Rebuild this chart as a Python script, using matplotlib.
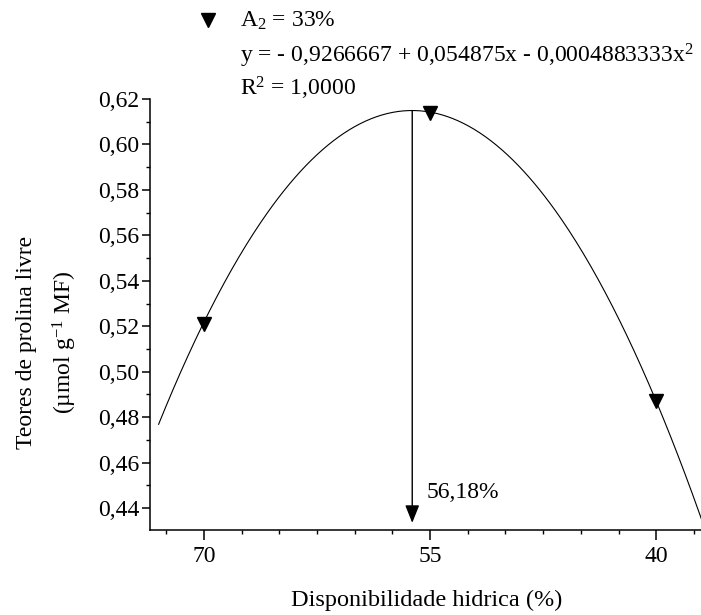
import matplotlib
matplotlib.use("Agg")
import matplotlib.pyplot as plt
import numpy as np
from matplotlib.lines import Line2D
from matplotlib.ticker import MultipleLocator, FuncFormatter

# medias observadas (A2 = 33%)
disponibilidade = [70, 55, 40]
prolina = [0.521, 0.614, 0.487]

# coeficientes da regressao quadratica y = b0 + b1*x + b2*x^2
b0, b1, b2 = -0.9266667, 0.054875, -0.0004883333
x_max = 56.18

plt.rcParams["font.family"] = ["Liberation Serif", "DejaVu Serif"]
plt.rcParams["mathtext.fontset"] = "stix"

fig = plt.figure(figsize=(7.01, 6.15), dpi=100)
ax = fig.add_axes([0.214, 0.138, 0.786, 0.701])

xc = np.linspace(73.0, 37.0, 300)
yc = b0 + b1 * xc + b2 * xc ** 2
ax.plot(xc, yc, color="black", lw=0.8)
ax.plot(disponibilidade, prolina, linestyle="none", marker="v",
        markersize=10, color="black")

# seta no ponto de maximo
y_pico = b0 + b1 * x_max + b2 * x_max ** 2
ax.annotate("", xy=(x_max, 0.4335), xytext=(x_max, y_pico),
            arrowprops=dict(arrowstyle="-|>,head_length=0.4,head_width=0.16",
                            mutation_scale=27, lw=1.0, color="black",
                            shrinkA=0, shrinkB=0))
ax.text(55.2, 0.4467, "56,18%", ha="left", va="center", fontsize=17)

ax.set_xlim(73.57, 37.03)
ax.set_ylim(0.4303, 0.62)
ax.set_xticks(disponibilidade)
ax.xaxis.set_minor_locator(MultipleLocator(2.5))
ax.yaxis.set_major_locator(MultipleLocator(0.02))
ax.yaxis.set_minor_locator(MultipleLocator(0.01))
ax.yaxis.set_major_formatter(FuncFormatter(lambda v, p: f"{v:.2f}".replace(".", ",")))
ax.xaxis.set_major_formatter(FuncFormatter(lambda v, p: f"{v:.0f}"))

for s in ["top", "right"]:
    ax.spines[s].set_visible(False)
for s in ["left", "bottom"]:
    ax.spines[s].set_linewidth(1.1)

ax.tick_params(axis="x", which="major", length=7.2, width=1.1, labelsize=17, pad=4)
ax.tick_params(axis="y", which="major", length=5.8, width=1.1, labelsize=17, pad=2)
ax.tick_params(which="minor", length=2.8, width=1.0)

ax.set_xlabel("Disponibilidade hidrica (%)", fontsize=17.5, va="center")
ax.xaxis.set_label_coords(0.503, -0.163)
ax.set_ylabel("Teores de prolina livre\n(µmol g$\\mathregular{^{-1}}$ MF)",
              fontsize=17, va="center", ha="center", linespacing=1.65)
ax.yaxis.set_label_coords(-0.186, 0.436)

# legenda com a equacao
fig.add_artist(Line2D([208 / 701], [1 - 20 / 615], marker="v", markersize=10,
                      color="black", linestyle="none", transform=fig.transFigure))
tx = 240 / 701
fig.text(tx, 1 - 27 / 615, "A$\\mathregular{_2}$ = 33%", fontsize=17, va="baseline")
fig.text(tx, 1 - 63 / 615,
         "y = - 0,9266667 + 0,054875x - 0,0004883333x$\\mathregular{^2}$",
         fontsize=17, va="baseline")
fig.text(tx, 1 - 95 / 615, "R$\\mathregular{^2}$ = 1,0000", fontsize=17, va="baseline")

fig.savefig("out.png", dpi=100)
